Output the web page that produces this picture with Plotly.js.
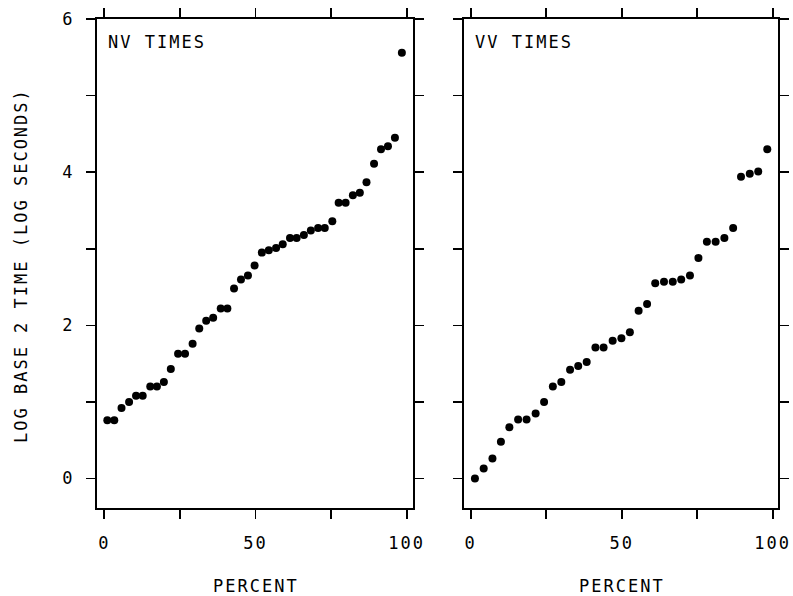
<!DOCTYPE html>
<html>
<head>
<meta charset="utf-8">
<script src="https://cdn.plot.ly/plotly-3.0.1.min.js"></script>
<style>html,body{margin:0;padding:0;background:#fff;}</style>
</head>
<body>
<div id="chart" style="width:793px;height:596px;"></div>
<script>
// ---- data ----
const nvPercent = [1.0, 3.3, 5.7, 8.2, 10.5, 12.7, 15.2, 17.4, 19.7, 22.0, 24.4, 26.7, 29.2, 31.4, 33.7, 36.0, 38.5, 40.7, 42.9, 45.2, 47.5, 49.7, 52.1, 54.4, 56.8, 59.0, 61.4, 63.6, 66.0, 68.3, 70.7, 72.9, 75.4, 77.5, 79.8, 82.2, 84.5, 86.7, 89.2, 91.5, 93.8, 96.1, 98.4];
const nvLogTime = [0.76, 0.76, 0.92, 1.00, 1.08, 1.08, 1.20, 1.20, 1.26, 1.43, 1.63, 1.63, 1.76, 1.96, 2.06, 2.10, 2.22, 2.22, 2.48, 2.60, 2.65, 2.78, 2.95, 2.98, 3.01, 3.06, 3.14, 3.14, 3.18, 3.24, 3.27, 3.27, 3.36, 3.60, 3.60, 3.70, 3.73, 3.87, 4.11, 4.30, 4.34, 4.45, 5.56];
const vvPercent = [1.4, 4.3, 7.2, 10.0, 12.8, 15.7, 18.5, 21.5, 24.3, 27.2, 30.0, 32.9, 35.6, 38.4, 41.3, 44.0, 47.0, 49.9, 52.7, 55.6, 58.4, 61.1, 64.0, 66.9, 69.7, 72.6, 75.4, 78.2, 81.1, 84.0, 86.9, 89.5, 92.4, 95.2, 98.2];
const vvLogTime = [0.00, 0.13, 0.26, 0.48, 0.67, 0.77, 0.77, 0.85, 1.00, 1.20, 1.26, 1.42, 1.47, 1.52, 1.71, 1.71, 1.80, 1.83, 1.91, 2.19, 2.28, 2.55, 2.57, 2.57, 2.60, 2.65, 2.88, 3.09, 3.09, 3.14, 3.27, 3.94, 3.98, 4.01, 4.30];
const panelTitles = ["NV TIMES", "VV TIMES"];
const xTickVals = [0, 25, 50, 75, 100];
const xTickText = ["0", "", "50", "", "100"];
const yTickVals = [0, 1, 2, 3, 4, 5, 6];
const yTickText = ["0", "", "2", "", "4", "", "6"];
const xTitle = "PERCENT";
const yTitle = "LOG BASE 2 TIME (LOG SECONDS)";

const FONT = {family: "DejaVu Sans Mono", size: 17, color: "#000"};
const W = 793, H = 596;

const marker = {color: "#000", size: 8, line: {width: 0}};
const traces = [
  {x: nvPercent, y: nvLogTime, type: "scatter", mode: "markers", marker: marker, xaxis: "x", yaxis: "y", hoverinfo: "skip"},
  {x: vvPercent, y: vvLogTime, type: "scatter", mode: "markers", marker: marker, xaxis: "x2", yaxis: "y2", hoverinfo: "skip"}
];

function xAxis(domain, range) {
  return {
    domain: domain, range: range, showgrid: false, zeroline: false,
    showline: true, linecolor: "#000", linewidth: 2, mirror: "ticks",
    ticks: "outside", ticklen: 9, tickwidth: 1.6, tickcolor: "#000",
    tickmode: "array", tickvals: xTickVals, ticktext: xTickText,
    tickfont: FONT, ticklabelstandoff: 10, fixedrange: true
  };
}
function yAxis(domain, anchor, showLabels) {
  return {
    domain: domain, range: [-0.385, 6.0], anchor: anchor, showgrid: false, zeroline: false,
    showline: true, linecolor: "#000", linewidth: 2, mirror: "ticks",
    ticks: "outside", ticklen: 9, tickwidth: 1.6, tickcolor: "#000",
    tickmode: "array", tickvals: yTickVals, ticktext: yTickText,
    showticklabels: showLabels, tickfont: FONT, ticklabelstandoff: 8, fixedrange: true
  };
}

const yDom = [88 / H, 577 / H];
const layout = {
  width: W, height: H,
  margin: {l: 0, r: 0, t: 0, b: 0},
  paper_bgcolor: "#fff", plot_bgcolor: "#fff",
  showlegend: false,
  font: FONT,
  xaxis: Object.assign(xAxis([97 / W, 413 / W], [-2.41, 102.08]), {anchor: "y"}),
  yaxis: yAxis(yDom, "x", true),
  xaxis2: Object.assign(xAxis([464 / W, 778 / W], [-2.22, 101.75]), {anchor: "y2"}),
  yaxis2: yAxis(yDom, "x2", false),
  annotations: [
    {text: panelTitles[0], xref: "paper", yref: "paper", x: 157 / W, y: (H - 42) / H, xanchor: "center", yanchor: "middle", showarrow: false, font: FONT},
    {text: panelTitles[1], xref: "paper", yref: "paper", x: 524 / W, y: (H - 42) / H, xanchor: "center", yanchor: "middle", showarrow: false, font: FONT},
    {text: xTitle, xref: "paper", yref: "paper", x: 256 / W, y: (H - 586) / H, xanchor: "center", yanchor: "middle", showarrow: false, font: FONT},
    {text: xTitle, xref: "paper", yref: "paper", x: 622 / W, y: (H - 586) / H, xanchor: "center", yanchor: "middle", showarrow: false, font: FONT},
    {text: yTitle, xref: "paper", yref: "paper", x: 21 / W, y: (H - 266) / H, xanchor: "center", yanchor: "middle", textangle: -90, showarrow: false, font: FONT}
  ]
};

Plotly.newPlot("chart", traces, layout, {staticPlot: true, displayModeBar: false}).then(function () {
  document.querySelectorAll("#chart svg text").forEach(function (t) {
    t.style.letterSpacing = "2px";
  });
});
</script>
</body>
</html>
